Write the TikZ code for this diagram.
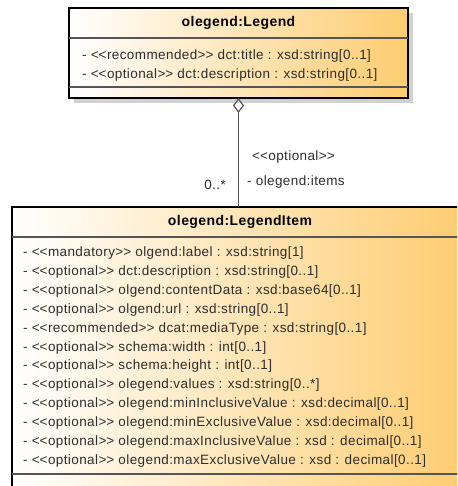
\documentclass[tikz,border=0pt]{standalone}
\usepackage{fontspec}
\setmainfont{Liberation Sans}[LetterSpace=3]
\usetikzlibrary{arrows.meta,positioning,shadows}
\definecolor{umlorange}{RGB}{254,204,112}
\definecolor{umlgray}{RGB}{85,85,85}
\definecolor{ink}{RGB}{45,45,45}
\newcommand{\stereo}[1]{<\kern0pt<#1>\kern0pt>}
\tikzset{
  classbox/.style={draw=black,line width=#1,left color=white,right color=umlorange,
    inner sep=0pt,outer sep=0pt},
  classbox/.default=1.8pt,
  classname/.style={font=\fontsize{14}{16}\bfseries\selectfont,text=black,inner sep=0pt},
  attr/.style={anchor=west,inner sep=0pt,text height=10pt,text depth=3pt,
    font=\fontsize{13.5}{16}\selectfont,text=ink},
  divider/.style={draw=umlgray,line width=1.2pt},
  assoc/.style={{Diamond[open,length=15pt,width=11pt]}-,draw=umlgray,line width=1.2pt},
}

\begin{document}
\begin{tikzpicture}[x=1pt,y=-1pt]
  \useasboundingbox (0,0) rectangle (457,486);
  \clip (0,0) rectangle (457,486);
  % classes
  \node[classbox=2.4pt,minimum width=339pt,minimum height=90pt,
    drop shadow={shadow xshift=5pt,shadow yshift=-5pt,fill=black!18,opacity=1}] (legend) at (238.5,53) {};
  \node[classbox,minimum width=456pt,minimum height=300pt] (item) at (240,357) {};
  \node[classname] (legendname) at ([yshift=-15pt]legend.north) {olegend:Legend};
  \node[classname] (itemname) at ([yshift=-15pt]item.north) {olegend:LegendItem};
  \draw[divider] ([yshift=-30pt]legend.north west) -- ([yshift=-30pt]legend.north east);
  \draw[divider] ([yshift=-79pt]legend.north west) -- ([yshift=-79pt]legend.north east);
  \draw[divider] ([yshift=-30pt]item.north west) -- ([yshift=-30pt]item.north east);
  \draw[divider] ([yshift=-267pt]item.north west) -- ([yshift=-267pt]item.north east);
  % attributes
  \foreach \a [count=\i from 0] in {
    \stereo{recommended} dct:title : xsd:string[0..1],
    \stereo{optional} dct:description : xsd:string[0..1]}
    \node[attr] (legendattr\i) at (82,56+19*\i) {- \a};
  \foreach \a [count=\i from 0] in {
    \stereo{mandatory} olgend:label : xsd:string[1],
    \stereo{optional} dct:description : xsd:string[0..1],
    \stereo{optional} olgend:contentData : xsd:base64[0..1],
    \stereo{optional} olgend:url : xsd:string[0..1],
    \stereo{recommended} dcat:mediaType : xsd:string[0..1],
    \stereo{optional} schema:width : int[0..1],
    \stereo{optional} schema:height : int[0..1],
    \stereo{optional} olegend:values : xsd:string[0..*],
    \stereo{optional} olegend:minInclusiveValue : xsd:decimal[0..1],
    \stereo{optional} olegend:minExclusiveValue : xsd:decimal[0..1],
    \stereo{optional} olegend:maxInclusiveValue : xsd : decimal[0..1],
    \stereo{optional} olegend:maxExclusiveValue : xsd : decimal[0..1]}
    \node[attr] (itemattr\i) at (23,253+18.9*\i) {- \a};
  % aggregation
  \draw[assoc] (legend.south) -- (legend.south |- item.north);
  \node[attr] (stereolabel) at (252,157) {\stereo{optional}};
  \node[attr] (rolelabel) at (247,182) {- olegend:items};
  \node[attr,anchor=east] (multlabel) at (226,186) {0..*};
\end{tikzpicture}
\end{document}
